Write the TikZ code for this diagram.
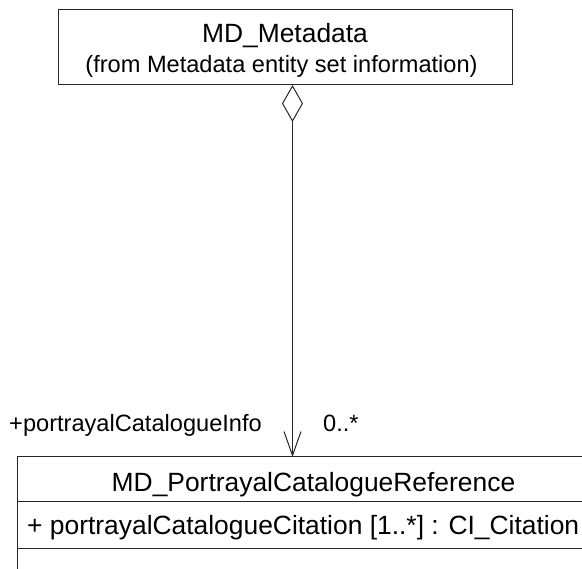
\documentclass[tikz,border=0pt]{standalone}
\usepackage{fontspec}
\setmainfont{Liberation Sans}
\usetikzlibrary{arrows.meta}
\begin{document}
\begin{tikzpicture}[x=1pt,y=-1pt,
  big/.style={inner sep=0pt, anchor=base, font=\fontsize{26.4}{30}\selectfont},
  small/.style={inner sep=0pt, anchor=base, font=\fontsize{23.6}{27}\selectfont},
  boxline/.style={draw=black!85, line width=1pt},
  conn/.style={draw=black!85, line width=1pt}]
\useasboundingbox (0,0) rectangle (582,569);
\clip (0,0) rectangle (582,569);
% top class box
\node[boxline, minimum width=454pt, minimum height=75pt, inner sep=0pt] (meta) at (285,47.5) {};
\node[big] (metaname) at (285,43) {MD\_Metadata};
\node[small] (metafrom) at (281.5,73) {(from Metadata entity set information)};
% bottom class box
\draw[boxline] (17,569) -- (17,457) -- (600,457) -- (600,569);
\draw[boxline] (17,502) -- (600,502);
\draw[boxline] (17,549) -- (600,549);
\coordinate (btop) at (292.5,457);
\coordinate (mbot) at (292.5,85);
\node[big] (prname) at (313.5,492) {MD\_PortrayalCatalogueReference};
\node[big, anchor=base west] (prattr) at (27,535) {+ portrayalCatalogueCitation [1..*] : CI\_Citation};
% association
\draw[conn, {Diamond[open, length=37pt, width=21pt, line width=1pt]}-{Straight Barb[length=24pt, width=17pt, line width=1pt]}] (mbot) -- (btop);
\node[small, anchor=base east] (role) at (262,432) {+portrayalCatalogueInfo};
\node[small, anchor=base west] (mult) at (323,432) {0..*};
\end{tikzpicture}
\end{document}
